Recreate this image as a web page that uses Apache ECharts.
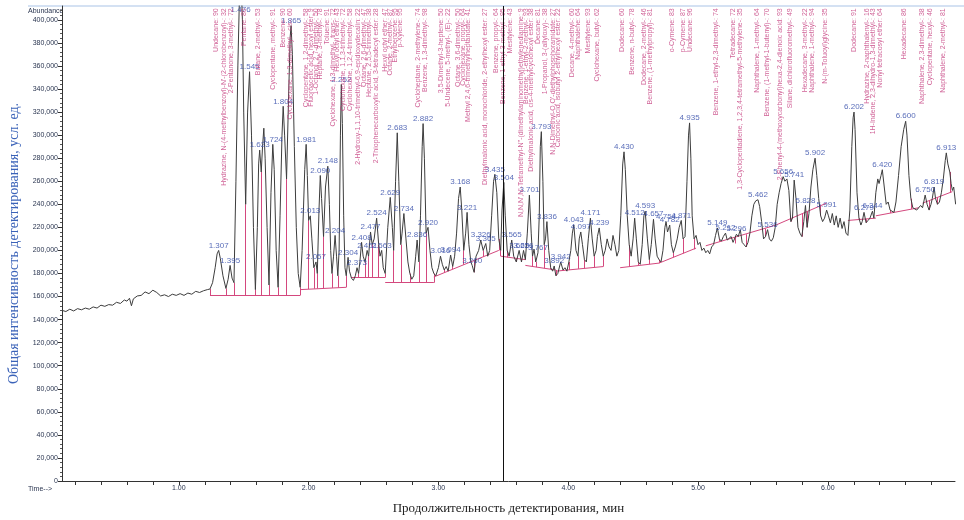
<!DOCTYPE html>
<html>
<head>
<meta charset="utf-8">
<script src="https://cdn.jsdelivr.net/npm/echarts@6/dist/echarts.min.js"></script>
<style>
  html, body { margin: 0; padding: 0; background: #fff; }
  #chart { width: 964px; height: 520px; }
</style>
</head>
<body>
<div id="chart"></div>
<script>
// хроматограмма: [время, мин ; интенсивность]
const signal = [
  [0.10,148000],[0.13,147000],[0.16,149000],[0.19,147500],[0.22,149500],[0.25,148500],[0.28,150000],[0.31,149000],
  [0.34,151000],[0.37,150000],[0.40,152500],[0.43,151500],[0.46,153000],[0.49,152500],[0.52,155000],[0.55,154000],
  [0.58,157000],[0.60,156000],[0.62,158500],[0.635,152000],[0.65,158000],[0.68,160500],[0.71,161000],[0.74,164000],
  [0.77,162500],[0.80,165500],[0.83,163500],[0.86,160500],[0.89,161500],[0.92,160000],[0.95,162000],[0.98,161000],
  [1.01,162500],[1.04,161000],[1.07,163000],[1.10,162000],[1.13,164500],[1.16,163500],[1.19,165000],[1.22,166000],
  [1.24,166500],[1.26,172000],[1.28,185000],[1.295,197000],[1.307,200000],[1.32,193000],[1.34,178000],[1.363,167000],
  [1.38,175000],[1.395,187000],[1.41,176000],[1.425,172000],[1.44,260000],[1.455,360000],[1.468,425000],[1.476,445000],
  [1.49,400000],[1.50,320000],[1.515,240000],[1.53,320000],[1.545,355000],[1.56,300000],[1.575,220000],[1.59,166000],
  [1.605,220000],[1.615,275000],[1.623,287000],[1.635,268000],[1.645,290000],[1.655,306000],[1.665,280000],[1.68,220000],
  [1.695,170000],[1.71,250000],[1.724,292000],[1.735,270000],[1.75,200000],[1.765,168000],[1.78,230000],[1.795,300000],
  [1.804,325000],[1.815,300000],[1.83,262000],[1.845,330000],[1.858,385000],[1.865,395000],[1.875,370000],[1.89,290000],
  [1.905,220000],[1.92,180000],[1.935,168000],[1.95,200000],[1.97,270000],[1.981,292000],[1.99,265000],[2.0,226000],
  [2.013,230000],[2.025,210000],[2.04,185000],[2.057,190000],[2.067,180000],[2.08,235000],[2.09,265000],[2.10,245000],
  [2.115,212000],[2.13,255000],[2.148,273000],[2.16,240000],[2.17,200000],[2.18,180000],[2.192,195000],[2.204,213000],
  [2.215,195000],[2.225,178000],[2.235,200000],[2.245,300000],[2.252,344000],[2.26,310000],[2.27,230000],[2.28,185000],
  [2.29,178000],[2.304,194000],[2.315,182000],[2.33,176000],[2.345,174000],[2.36,178000],[2.373,185000],[2.385,180000],
  [2.395,190000],[2.408,207000],[2.42,195000],[2.435,190000],[2.451,200000],[2.462,195000],[2.477,216000],[2.49,205000],
  [2.505,210000],[2.524,228000],[2.54,205000],[2.55,195000],[2.563,200000],[2.575,185000],[2.59,180000],[2.61,220000],
  [2.629,246000],[2.645,220000],[2.655,200000],[2.67,260000],[2.683,302000],[2.695,260000],[2.71,205000],[2.72,215000],
  [2.734,232000],[2.75,210000],[2.765,190000],[2.78,180000],[2.795,175000],[2.81,178000],[2.825,195000],[2.836,209000],
  [2.85,190000],[2.862,230000],[2.875,290000],[2.882,310000],[2.892,280000],[2.905,215000],[2.92,220000],[2.935,200000],
  [2.95,185000],[2.965,180000],[2.98,178000],[3.0,185000],[3.016,195000],[3.03,188000],[3.045,183000],[3.06,186000],
  [3.075,182000],[3.094,196000],[3.11,186000],[3.125,195000],[3.14,215000],[3.155,245000],[3.168,255000],[3.18,235000],
  [3.195,200000],[3.21,215000],[3.221,233000],[3.235,205000],[3.25,190000],[3.26,187000],[3.275,181000],[3.29,195000],
  [3.31,200000],[3.326,209000],[3.345,200000],[3.365,206000],[3.38,195000],[3.395,200000],[3.41,230000],[3.425,260000],
  [3.435,266000],[3.45,250000],[3.465,210000],[3.48,200000],[3.49,235000],[3.504,259000],[3.515,230000],[3.53,200000],
  [3.545,195000],[3.565,209000],[3.58,195000],[3.60,190000],[3.622,200000],[3.64,190000],[3.656,200000],[3.67,192000],
  [3.685,215000],[3.701,248000],[3.715,215000],[3.725,195000],[3.737,201000],[3.75,190000],[3.767,198000],[3.777,230000],
  [3.785,290000],[3.793,303000],[3.805,260000],[3.815,205000],[3.825,210000],[3.836,225000],[3.85,200000],[3.865,185000],
  [3.88,182000],[3.892,186500],[3.905,178000],[3.92,180000],[3.942,190000],[3.96,183000],[3.975,185000],[3.99,182000],
  [4.005,190000],[4.02,200000],[4.032,215000],[4.043,222000],[4.06,200000],[4.075,195000],[4.085,210000],[4.097,216000],
  [4.11,205000],[4.125,192000],[4.14,190000],[4.155,210000],[4.171,228000],[4.185,210000],[4.2,195000],[4.215,200000],
  [4.225,212000],[4.239,219500],[4.255,205000],[4.27,195000],[4.285,200000],[4.30,210000],[4.315,203000],[4.33,200000],
  [4.345,213000],[4.36,205000],[4.375,195000],[4.39,200000],[4.405,230000],[4.42,275000],[4.43,285500],[4.44,270000],
  [4.455,230000],[4.47,205000],[4.485,195000],[4.50,210000],[4.512,228000],[4.525,210000],[4.54,190000],[4.555,188000],
  [4.57,205000],[4.583,230000],[4.593,234000],[4.61,210000],[4.625,192000],[4.64,205000],[4.657,227000],[4.67,210000],
  [4.685,195000],[4.70,192000],[4.715,190000],[4.73,200000],[4.745,220000],[4.754,225000],[4.765,216000],[4.782,222000],
  [4.795,205000],[4.81,198000],[4.825,203000],[4.84,210000],[4.855,220000],[4.871,226000],[4.885,210000],[4.90,212000],
  [4.915,260000],[4.927,300000],[4.935,310600],[4.945,280000],[4.955,230000],[4.97,210000],[4.985,213000],[5.0,205000],
  [5.015,207000],[5.03,200000],[5.045,202000],[5.06,198000],[5.075,200000],[5.09,197000],[5.105,203000],[5.12,205000],
  [5.135,213000],[5.149,219500],[5.165,210000],[5.18,208000],[5.195,212000],[5.212,215000],[5.225,209000],[5.24,210000],
  [5.255,212000],[5.27,207000],[5.285,206000],[5.296,214000],[5.31,212000],[5.326,218000],[5.34,207000],[5.355,205000],
  [5.37,203000],[5.385,207000],[5.40,215000],[5.415,230000],[5.43,240000],[5.445,243000],[5.462,244000],[5.475,238000],
  [5.49,225000],[5.505,210000],[5.52,212000],[5.536,218000],[5.55,210000],[5.565,208000],[5.58,211000],[5.595,220000],
  [5.61,240000],[5.625,250000],[5.64,258000],[5.656,264000],[5.67,260000],[5.685,262000],[5.70,252000],[5.715,225000],
  [5.728,228000],[5.741,261000],[5.755,245000],[5.77,220000],[5.785,215000],[5.80,212000],[5.815,225000],[5.828,239000],
  [5.84,220000],[5.855,232000],[5.87,255000],[5.885,270000],[5.902,280000],[5.915,265000],[5.93,245000],[5.945,230000],
  [5.96,225000],[5.975,228000],[5.991,235000],[6.005,230000],[6.02,224000],[6.035,232000],[6.05,222000],[6.065,230000],
  [6.08,220000],[6.095,228000],[6.11,219000],[6.125,225000],[6.14,215000],[6.155,213000],[6.17,235000],[6.185,290000],
  [6.195,315000],[6.202,320000],[6.21,305000],[6.225,250000],[6.24,228000],[6.255,222000],[6.265,225000],[6.279,233000],
  [6.295,224000],[6.31,226000],[6.325,228000],[6.344,234000],[6.355,228000],[6.37,250000],[6.385,262000],[6.395,258000],
  [6.41,265000],[6.42,270000],[6.435,255000],[6.45,240000],[6.465,242000],[6.48,235000],[6.495,234000],[6.51,233000],
  [6.525,242000],[6.545,265000],[6.565,290000],[6.585,305000],[6.60,312000],[6.61,300000],[6.625,265000],[6.64,245000],
  [6.655,237000],[6.67,238000],[6.685,235000],[6.70,236000],[6.715,239000],[6.73,237000],[6.75,248000],[6.765,240000],
  [6.78,235000],[6.795,240000],[6.805,245000],[6.819,255000],[6.83,245000],[6.845,240000],[6.86,242000],[6.875,250000],
  [6.89,262000],[6.905,278000],[6.913,284600],[6.925,275000],[6.94,268000],[6.95,258000],[6.96,252000],[6.97,255000],
  [6.985,240000]
];

// подписи времени удерживания (синие) и высота вершины
const peakTimes = [1.307,1.395,1.476,1.545,1.623,1.724,1.804,1.865,1.981,2.013,2.057,2.090,2.148,2.204,2.252,2.304,
  2.373,2.408,2.451,2.477,2.524,2.563,2.629,2.683,2.734,2.836,2.882,2.920,3.016,3.094,3.168,3.221,3.260,3.326,3.365,
  3.435,3.504,3.565,3.622,3.656,3.701,3.767,3.793,3.836,3.892,3.942,4.043,4.097,4.171,4.239,4.430,4.512,4.593,4.657,
  4.754,4.782,4.871,4.935,5.149,5.212,5.296,5.462,5.536,5.656,5.741,5.828,5.902,5.991,6.202,6.279,6.344,6.420,6.600,
  6.750,6.819,6.913];
// 1.476 — вершина за пределами шкалы, подпись у верхней границы
const peakHeights = [200000,187000,404000,355000,287000,292000,325000,395000,292000,230000,190000,265000,273000,213000,344000,194000,
  185000,207000,200000,216000,228000,200000,246000,302000,232000,209000,310000,220000,195000,196000,255000,233000,187000,209000,206000,
  266000,259000,209000,200000,200000,248000,198000,303000,225000,186500,190000,222000,216000,228000,219500,285500,228000,234000,227000,
  225000,222000,226000,310600,219500,215000,214000,244000,218000,264000,261000,239000,280000,235000,320000,233000,234000,270000,312000,
  248000,255000,284600];

// идентификация (вертикальные подписи)
const compoundTimes = [1.285,1.347,1.400,1.501,1.609,1.724,1.801,1.855,1.979,2.017,2.056,2.086,2.140,2.187,2.218,2.264,
  2.319,2.380,2.426,2.464,2.518,2.588,2.626,2.665,2.703,2.842,2.896,3.019,3.073,3.150,3.189,3.227,3.358,3.443,3.497,
  3.551,3.636,3.674,3.713,3.767,3.821,3.883,3.922,4.029,4.075,4.152,4.222,4.414,4.491,4.584,4.630,4.800,4.884,4.938,
  5.139,5.270,5.324,5.455,5.532,5.632,5.709,5.825,5.879,5.979,6.203,6.303,6.349,6.403,6.588,6.727,6.788,6.888];
const compoundNames = [
  'Undecane: 90',
  "Hydrazine, N-(4-methylbenzoyl)-N'-(2-chlorobenzoyl)-: 32",
  '2-Pentanone, 3-methyl-: 72',
  'Pentane: 80',
  'Butane, 2-methyl-: 53',
  'Cyclopentane, methyl-: 91',
  'Benzene: 90',
  'Cyclohexane, 1,3-dimethyl-, cis-: 60',
  'Cyclopentane, 1,2-dimethyl-: 58',
  'Fluoroacetic acid, hexyl ester: 9',
  '1-Octanol, 2,7-dimethyl-: 50',
  'Heptane, 3-methyl-: 78',
  'Toluene: 91',
  'Cyclohexane, 1,3-dimethyl-, trans-: 72',
  'Hexyl octyl ether: 43',
  'Cyclohexane, 1,1,3-trimethyl-: 72',
  'Cyclohexane, 1,2,4-trimethyl-: 58',
  '2-Hydroxy-1,1,10-trimethyl-6,9-epidioxydecalin: 22',
  'Octane, 2,6-dimethyl-: 47',
  'Heptane, 2,5,5-trimethyl-: 38',
  '2-Thiophenecarboxylic acid, 3-tetradecyl ester: 28',
  'Hexyl octyl ether: 47',
  'Octane, 2-methyl-: 87',
  'Ethylbenzene: 95',
  'p-Xylene: 95',
  'Cycloheptane, 2-methylene-: 74',
  'Benzene, 1,3-dimethyl-: 98',
  '3,5-Dimethyl-3-heptene: 50',
  '5-Undecene, 5-methyl-, (E)-: 22',
  'Octane, 3,6-dimethyl-: 50',
  'Cyclohexane, propyl-: 64',
  'Methyl 2,4,6-trimethylheptanoate: 41',
  'Diethylmalonic acid, monochloride, 2-ethylhexyl ester: 27',
  'Benzene, propyl-: 64',
  'Benzene, 1-ethyl-3-methyl-: 95',
  'Mesitylene: 43',
  "N,N,N',N'-Tetramethyl-N''-(dimethylaminomethyl)ethylenediamine: 9",
  'Benzene, 1-ethyl-2-methyl-: 93',
  'Diethylmalonic acid, cis-4-methylcyclohexyl ester: 38',
  'Decane: 81',
  '1-Propanol, 3-(allyloxy)-: 38',
  "N,N-Dimethyl-O,O'-diethylphosphoramidate: 27",
  'Carbonic acid, isobutyl 2-ethylhexyl ester: 22',
  'Decane, 4-methyl-: 60',
  'Naphthalene: 64',
  'Mesitylene: 93',
  'Cyclohexane, butyl-: 62',
  'Dodecane: 60',
  'Benzene, n-butyl-: 78',
  'Dodecane, 2-methyl-: 46',
  'Benzene, (1-methylpropyl)-: 81',
  'o-Cymene: 83',
  'p-Cymene: 87',
  'Undecane: 96',
  'Benzene, 1-ethyl-2,3-dimethyl-: 74',
  'Tetradecane: 72',
  '1,3-Cyclopentadiene, 1,2,3,4-tetramethyl-5-methylene-: 35',
  'Naphthalene, 1-methyl-: 64',
  'Benzene, (1-methyl-1-butenyl)-: 70',
  '2-Phenyl-4-(methoxycarbonyl)hexa-2,4-dienoic acid: 93',
  'Silane, dichlorofluoromethyl-: 49',
  'Hexadecane, 3-methyl-: 22',
  'Naphthalene, 1-methyl-: 94',
  'N-(m-Toluoyl)glycine: 35',
  'Dodecane: 91',
  'Hydrazine, 2-naphthalenyl-: 16',
  '1H-Indene, 2,3-dihydro-1,3-dimethyl-: 43',
  'Nonyl tetracosyl ether: 64',
  'Hexadecane: 86',
  'Naphthalene, 2,3-dimethyl-: 38',
  'Cyclopentane, hexyl-: 46',
  'Naphthalene, 2-methyl-: 81'
];

// базовая линия интегрирования (отрезки)
const baseSegments = [
  [[1.24,161000],[1.935,161000]],
  [[1.935,166000],[2.29,168000]],
  [[2.33,176500],[2.59,176500]],
  [[2.59,172000],[2.965,172000]],
  [[2.965,177000],[3.465,200000]],
  [[3.48,195000],[3.67,192000]],
  [[3.67,187000],[3.905,183000]],
  [[3.905,182000],[4.27,186000]],
  [[4.40,185000],[4.70,189000]],
  [[4.70,189000],[4.985,202000]],
  [[5.06,204000],[5.60,222000]],
  [[5.60,222000],[5.99,241000]],
  [[6.155,226000],[6.37,228000]],
  [[6.37,230000],[6.70,237000]],
  [[6.73,241000],[6.96,251000]]
];
// границы пиков: [время, уровень базовой линии]
const drops = [
  [1.24,161000],[1.363,161000],[1.425,161000],[1.515,161000],[1.59,161000],[1.635,161000],[1.695,161000],[1.765,161000],
  [1.83,161000],[1.935,161000],[2.0,166500],[2.04,166800],[2.067,167000],[2.115,167200],[2.18,167500],[2.225,167700],
  [2.29,168000],[2.33,176500],[2.385,176500],[2.435,176500],[2.462,176500],[2.49,176500],[2.54,176500],[2.59,176500],
  [2.655,172000],[2.71,172000],[2.78,172000],[2.85,172000],[2.905,172000],[2.965,172000],[3.045,180700],[3.11,183700],
  [3.195,187600],[3.275,191300],[3.345,194500],[3.38,196000],[3.465,200000],[3.48,195000],[3.53,194000],[3.60,193000],
  [3.64,192500],[3.67,192000],[3.725,186000],[3.75,185500],[3.815,184500],[3.865,183700],[3.905,183000],[3.96,182600],
  [4.005,183000],[4.075,184000],[4.125,184500],[4.2,185200],[4.27,186000],[4.47,186000],[4.54,187000],[4.625,188000],
  [4.70,189000],[4.81,194000],[4.885,197500],[4.97,201000],[5.165,207500],[5.285,211500],[5.37,214000],[5.52,219000],
  [5.715,227500],[5.728,228000],[5.80,232000],[5.84,234000],[5.945,239000],[6.24,226500],[6.295,227000],[6.355,228000],
  [6.48,232500],[6.64,236000],[6.78,243000],[6.845,246000],[6.94,250000]
];

const cursorTime = 3.50;
const xTicks = [0.2,0.4,0.6,0.8,1.0,1.2,1.4,1.6,1.8,2.0,2.2,2.4,2.6,2.8,3.0,3.2,3.4,3.6,3.8,4.0,4.2,4.4,4.6,4.8,
  5.0,5.2,5.4,5.6,5.8,6.0,6.2,6.4,6.6,6.8];
const xLabels = [1, 2, 3, 4, 5, 6];
const yTicks = [0,20000,40000,60000,80000,100000,120000,140000,160000,180000,200000,220000,240000,260000,280000,
  300000,320000,340000,360000,380000,400000];

const nameTop = 410000;

function signalAt(t) {
  const p = signal.find(d => Math.abs(d[0] - t) < 1e-9);
  return p ? p[1] : null;
}

const chart = echarts.init(document.getElementById('chart'));

chart.setOption({
  animation: false,
  backgroundColor: '#fff',
  textStyle: { fontFamily: 'Liberation Sans, Arial, sans-serif' },
  grid: { left: 62, right: 9, top: 6, bottom: 39, outerBoundsMode: 'none', containLabel: false },
  xAxis: {
    type: 'value',
    min: 0.1,
    max: 6.98,
    name: 'Продолжительность детектирования, мин',
    nameLocation: 'middle',
    nameGap: 21,
    nameTextStyle: { fontFamily: 'Liberation Serif, serif', fontSize: 13, color: '#222' },
    axisLine: { lineStyle: { color: '#333', width: 1 } },
    axisTick: { customValues: xTicks, length: 4, lineStyle: { color: '#333' } },
    axisLabel: {
      customValues: xLabels,
      formatter: v => v.toFixed(2),
      fontSize: 7,
      color: '#2a3550',
      margin: 4
    },
    splitLine: { show: false }
  },
  yAxis: {
    type: 'value',
    min: 0,
    max: 412000,
    interval: 20000,
    name: 'Общая интенсивность детектирования, усл. ед.',
    nameLocation: 'middle',
    nameGap: 41,
    nameTextStyle: { fontFamily: 'Liberation Serif, serif', fontSize: 14, color: '#3a62b8' },
    axisLine: { show: true, lineStyle: { color: '#333', width: 1 } },
    axisTick: { customValues: yTicks, length: 4, lineStyle: { color: '#333' } },
    minorTick: { show: true, splitNumber: 5, length: 2, lineStyle: { color: '#555' } },
    axisLabel: { customValues: yTicks, fontSize: 7, color: '#2a3550', margin: 4 },
    splitLine: { show: false }
  },
  graphic: [
    { type: 'line', shape: { x1: 28, y1: 6, x2: 964, y2: 6 }, style: { stroke: '#a9c3e6', lineWidth: 1 } },
    { type: 'text', left: 28, top: 8, style: { text: 'Abundance', fontSize: 7, fill: '#2a3550' } },
    { type: 'text', left: 28, top: 486, style: { text: 'Time-->', fontSize: 7, fill: '#2a3550' } }
  ],
  series: [
    {
      type: 'lines',
      coordinateSystem: 'cartesian2d',
      silent: true,
      data: baseSegments.map(s => ({ coords: s })),
      lineStyle: { color: '#d4487e', width: 1, opacity: 1 },
      z: 1
    },
    {
      type: 'lines',
      coordinateSystem: 'cartesian2d',
      silent: true,
      data: drops.map(d => ({ coords: [[d[0], d[1]], [d[0], signalAt(d[0])]] })),
      lineStyle: { color: '#d4487e', width: 1, opacity: 1 },
      z: 1
    },
    {
      type: 'line',
      data: signal,
      symbol: 'none',
      lineStyle: { color: '#3d3d3d', width: 1 },
      z: 3,
      markLine: {
        silent: true,
        symbol: 'none',
        label: { show: false },
        lineStyle: { color: '#111', width: 1, type: 'solid' },
        data: [{ xAxis: cursorTime }]
      }
    },
    {
      type: 'scatter',
      symbolSize: 0,
      silent: true,
      z: 4,
      data: peakTimes.map((t, i) => [t, peakHeights[i]]),
      label: {
        show: true,
        position: 'top',
        distance: 1,
        formatter: p => p.value[0].toFixed(3),
        fontSize: 8,
        color: '#3048a8'
      }
    },
    {
      type: 'scatter',
      symbolSize: 0,
      silent: true,
      z: 4,
      data: compoundTimes.map(t => [t, nameTop]),
      label: {
        show: true,
        position: 'inside',
        rotate: 90,
        align: 'right',
        verticalAlign: 'middle',
        formatter: p => compoundNames[p.dataIndex],
        fontSize: 7,
        color: '#c43a7c'
      }
    }
  ]
});
</script>
</body>
</html>
